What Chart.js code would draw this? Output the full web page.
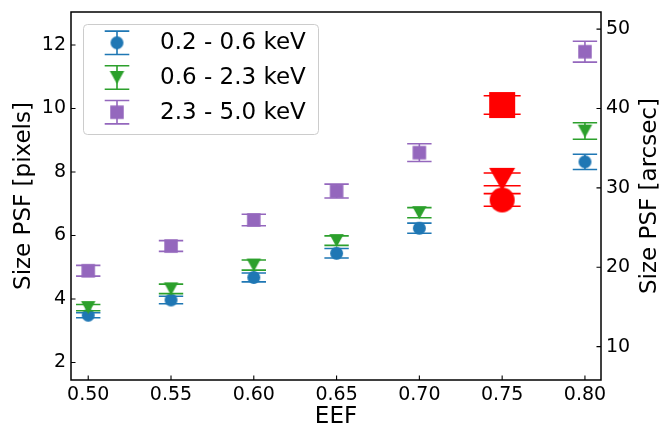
<!DOCTYPE html>
<html>
<head>
<meta charset="utf-8">
<script src="https://cdn.jsdelivr.net/npm/chart.js@4/dist/chart.umd.min.js"></script>
<style>
  html, body { margin: 0; padding: 0; background: #ffffff; }
  #wrap { width: 659px; height: 430px; }
</style>
</head>
<body>
<div id="wrap"><canvas id="psf" width="659" height="430"></canvas></div>
<script>
// Encircled energy fraction sampled for each PSF size measurement
const eef = [0.50, 0.55, 0.60, 0.65, 0.70, 0.75, 0.80];

// PSF size (pixels) and 1-sigma uncertainty per energy band
const softSize   = [3.49, 3.97, 4.68, 5.44, 6.23, 7.12, 8.32];
const softErr    = [0.08, 0.12, 0.14, 0.15, 0.16, 0.20, 0.24];
const mediumSize = [3.73, 4.32, 5.07, 5.84, 6.72, 7.77, 9.29];
const mediumErr  = [0.10, 0.15, 0.16, 0.15, 0.16, 0.20, 0.26];
const hardSize   = [4.89, 5.67, 6.49, 7.40, 8.61, 10.11, 11.79];
const hardErr    = [0.17, 0.17, 0.18, 0.22, 0.28, 0.29, 0.33];

const bandLabels = ['0.2 - 0.6 keV', '0.6 - 2.3 keV', '2.3 - 5.0 keV'];

// EEF value whose points are emphasised
const highlightEef = 0.75;

// Axis ticks
const eefTicks = [0.50, 0.55, 0.60, 0.65, 0.70, 0.75, 0.80];
const pixelTicks = [2, 4, 6, 8, 10, 12];
const arcsecTicks = [10, 20, 30, 40, 50];
const arcsecPerPixel = 4;

const FONT = "'DejaVu Sans', 'Liberation Sans', sans-serif";
const BLUE = '#1f77b4', GREEN = '#2ca02c', PURPLE = '#9467bd', RED = '#ff0000';
const yMin = 1.45, yMax = 13.04;

// Draws a marker shape onto a small canvas used as a point style
function makeMarker(shape, color, w, h) {
  const pad = 2;
  const c = document.createElement('canvas');
  c.width = Math.ceil(w) + pad * 2;
  c.height = Math.ceil(h) + pad * 2;
  const g = c.getContext('2d');
  const cx = c.width / 2, cy = c.height / 2;
  g.fillStyle = color;
  g.beginPath();
  if (shape === 'circle') {
    g.arc(cx, cy, w / 2, 0, Math.PI * 2);
  } else if (shape === 'square') {
    g.rect(cx - w / 2, cy - h / 2, w, h);
  } else {
    g.moveTo(cx - w / 2, cy - h / 2);
    g.lineTo(cx + w / 2, cy - h / 2);
    g.lineTo(cx, cy + h / 2);
    g.closePath();
  }
  g.fill();
  return c;
}

const bands = [
  { label: bandLabels[0], values: softSize, errors: softErr, color: BLUE,
    marker: makeMarker('circle', BLUE, 13, 13), big: makeMarker('circle', RED, 25, 25) },
  { label: bandLabels[1], values: mediumSize, errors: mediumErr, color: GREEN,
    marker: makeMarker('triangle', GREEN, 14.5, 13), big: makeMarker('triangle', RED, 26, 23) },
  { label: bandLabels[2], values: hardSize, errors: hardErr, color: PURPLE,
    marker: makeMarker('square', PURPLE, 13.5, 13.5), big: makeMarker('square', RED, 26, 26) }
];

// Vertical error bars with caps, drawn just before each dataset's markers
const errorBars = {
  id: 'errorBars',
  beforeDatasetDraw(chart, args) {
    const ds = chart.data.datasets[args.index];
    const xs = chart.scales.x, ys = chart.scales.y;
    const ctx = chart.ctx;
    ctx.save();
    ctx.lineWidth = 1.6;
    ds.data.forEach((p, i) => {
      const hi = p.x === highlightEef;
      const x = xs.getPixelForValue(p.x);
      const yLo = ys.getPixelForValue(p.y - ds.errors[i]);
      const yHi = ys.getPixelForValue(p.y + ds.errors[i]);
      const half = hi ? 18.5 : 12.2;
      ctx.strokeStyle = hi ? RED : ds.borderColor;
      ctx.beginPath();
      ctx.moveTo(x, yLo); ctx.lineTo(x, yHi);
      ctx.moveTo(x - half, yLo); ctx.lineTo(x + half, yLo);
      ctx.moveTo(x - half, yHi); ctx.lineTo(x + half, yHi);
      ctx.stroke();
    });
    ctx.restore();
  }
};

// Axes box, inward ticks, right axis title and legend
const frame = {
  id: 'frame',
  afterDraw(chart) {
    const ctx = chart.ctx;
    const a = chart.chartArea;
    const tl = 4.5;
    ctx.save();
    ctx.strokeStyle = '#000';
    ctx.lineWidth = 1.1;
    ctx.beginPath();
    chart.scales.x.ticks.forEach(t => {
      const px = chart.scales.x.getPixelForValue(t.value);
      ctx.moveTo(px, a.bottom); ctx.lineTo(px, a.bottom - tl);
    });
    chart.scales.y.ticks.forEach(t => {
      const py = chart.scales.y.getPixelForValue(t.value);
      ctx.moveTo(a.left, py); ctx.lineTo(a.left + tl, py);
    });
    chart.scales.y2.ticks.forEach(t => {
      const py = chart.scales.y2.getPixelForValue(t.value);
      ctx.moveTo(a.right, py); ctx.lineTo(a.right - tl, py);
    });
    ctx.stroke();
    ctx.lineWidth = 1.5;
    ctx.strokeRect(a.left, a.top, a.right - a.left, a.bottom - a.top);

    // right axis title, reading bottom to top
    ctx.save();
    ctx.translate(655.5, (a.top + a.bottom) / 2);
    ctx.rotate(-Math.PI / 2);
    ctx.font = '23px ' + FONT;
    ctx.fillStyle = '#000';
    ctx.textAlign = 'center';
    ctx.textBaseline = 'alphabetic';
    ctx.fillText('Size PSF [arcsec]', 0, 0);
    ctx.restore();

    // legend
    const bx = 83.5, by = 24.5, bw = 235, bh = 110, r = 4;
    ctx.beginPath();
    ctx.moveTo(bx + r, by);
    ctx.arcTo(bx + bw, by, bx + bw, by + bh, r);
    ctx.arcTo(bx + bw, by + bh, bx, by + bh, r);
    ctx.arcTo(bx, by + bh, bx, by, r);
    ctx.arcTo(bx, by, bx + bw, by, r);
    ctx.closePath();
    ctx.fillStyle = 'rgba(255,255,255,0.8)';
    ctx.fill();
    ctx.strokeStyle = '#cccccc';
    ctx.lineWidth = 1;
    ctx.stroke();

    chart.data.datasets.forEach((ds, k) => {
      const cy = 42.8 + k * 34.7;
      const cx = 117;
      ctx.strokeStyle = ds.borderColor;
      ctx.lineWidth = 1.6;
      ctx.beginPath();
      ctx.moveTo(cx, cy - 11.7); ctx.lineTo(cx, cy + 11.7);
      ctx.moveTo(cx - 12.3, cy - 11.7); ctx.lineTo(cx + 12.3, cy - 11.7);
      ctx.moveTo(cx - 12.3, cy + 11.7); ctx.lineTo(cx + 12.3, cy + 11.7);
      ctx.stroke();
      const m = ds.legendMarker;
      ctx.drawImage(m, cx - m.width / 2, cy - m.height / 2);
      ctx.font = '23px ' + FONT;
      ctx.fillStyle = '#000';
      ctx.textAlign = 'left';
      ctx.textBaseline = 'middle';
      ctx.fillText(ds.label, 160, cy + 0.5);
    });
    ctx.restore();
  }
};

const tickFont = { family: FONT, size: 19, lineHeight: 1.2 };
const titleFont = { family: FONT, size: 23, lineHeight: 1.0 };
const noGrid = { display: false, drawTicks: false };

new Chart(document.getElementById('psf'), {
  type: 'scatter',
  data: {
    datasets: bands.map((b, k) => ({
      label: b.label,
      data: eef.map((x, i) => ({ x, y: b.values[i] })),
      errors: b.errors,
      borderColor: b.color,
      backgroundColor: b.color,
      legendMarker: b.marker,
      pointStyle: eef.map(x => (x === highlightEef ? b.big : b.marker)),
      pointRadius: 7,
      pointHoverRadius: 7,
      order: 3 - k
    }))
  },
  options: {
    responsive: false,
    animation: false,
    devicePixelRatio: 1,
    layout: { padding: { top: 12, left: 0, right: 0, bottom: 0 } },
    plugins: { legend: { display: false }, tooltip: { enabled: false } },
    scales: {
      x: {
        type: 'linear',
        min: 0.4896,
        max: 0.8097,
        grid: noGrid,
        border: { display: false },
        afterBuildTicks: s => { s.ticks = eefTicks.map(v => ({ value: v })); },
        afterFit: s => { s.height = 50; s.paddingLeft = 0; s.paddingRight = 0; },
        ticks: {
          font: tickFont, color: '#000', padding: 4, maxRotation: 0,
          callback: v => Number(v).toFixed(2)
        },
        title: { display: true, text: 'EEF', font: titleFont, color: '#000', padding: { top: 0, bottom: 1 } }
      },
      y: {
        type: 'linear',
        position: 'left',
        min: yMin,
        max: yMax,
        grid: noGrid,
        border: { display: false },
        afterBuildTicks: s => { s.ticks = pixelTicks.map(v => ({ value: v })); },
        afterFit: s => { s.width = 71; s.paddingTop = 0; s.paddingBottom = 0; },
        ticks: { font: tickFont, color: '#000', padding: 5, callback: v => String(v) },
        title: { display: true, text: 'Size PSF [pixels]', font: { family: FONT, size: 23, lineHeight: 1.2 }, color: '#000', padding: { top: 10, bottom: 0 } }
      },
      y2: {
        type: 'linear',
        position: 'right',
        min: yMin * arcsecPerPixel,
        max: yMax * arcsecPerPixel,
        grid: noGrid,
        border: { display: false },
        afterBuildTicks: s => { s.ticks = arcsecTicks.map(v => ({ value: v })); },
        afterFit: s => { s.width = 58; s.paddingTop = 0; s.paddingBottom = 0; },
        ticks: { font: tickFont, color: '#000', padding: 5, callback: v => String(v) }
      }
    }
  },
  plugins: [errorBars, frame]
});
</script>
</body>
</html>
